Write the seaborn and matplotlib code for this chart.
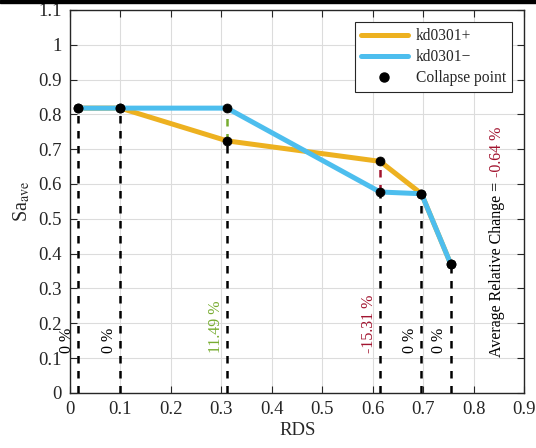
import matplotlib
matplotlib.use('Agg')
import matplotlib.pyplot as plt
from matplotlib.patches import Rectangle
from matplotlib.lines import Line2D
import seaborn as sns
import pandas as pd

# collapse points
rds = [0.016, 0.1, 0.311, 0.614, 0.696, 0.754]
sa_plus = [0.818, 0.818, 0.724, 0.665, 0.572, 0.370]
sa_minus = [0.818, 0.818, 0.818, 0.577, 0.572, 0.370]
change_labels = ['0 %', '0 %', '11.49 %', '-15.31 %', '0 %', '0 %']
change_values = [0, 0, 11.49, -15.31, 0, 0]
avg_label = '-0.64 %'

c_plus = '#EDB120'
c_minus = '#4DBEEE'
c_pos = '#77AC30'
c_neg = '#A2142F'
ink = '#262626'

sns.set_theme(style='ticks')
plt.rcParams['font.family'] = ['Liberation Serif', 'DejaVu Serif']
plt.rcParams['mathtext.fontset'] = 'stix'

df = pd.concat([
    pd.DataFrame({'RDS': rds, 'Sa': sa_plus, 'case': 'kd0301+'}),
    pd.DataFrame({'RDS': rds, 'Sa': sa_minus, 'case': 'kd0301\u2212'}),
])

fig = plt.figure(figsize=(5.36, 4.48), dpi=100)
ax = fig.add_axes([0.1306, 0.1232, 0.8479, 0.8545])

sns.lineplot(data=df, x='RDS', y='Sa', hue='case', palette=[c_plus, c_minus],
             estimator=None, sort=False, linewidth=3.6, ax=ax, legend=False, zorder=3)

# vertical dashed drops
for x, a, b, v in zip(rds, sa_plus, sa_minus, change_values):
    lo, hi = min(a, b), max(a, b)
    ax.plot([x, x], [0, lo], ls=(0, (3, 3)), color='black', lw=1.8, zorder=4)
    if hi > lo:
        ax.plot([x, x], [lo, hi], ls=(0, (3, 3)), color=c_pos if v > 0 else c_neg, lw=1.8, zorder=4)

sns.scatterplot(x=rds + rds, y=sa_plus + sa_minus, color='black', s=42,
                edgecolor='black', ax=ax, zorder=5)

for x, lab, v in zip(rds, change_labels, change_values):
    col = 'black' if v == 0 else (c_pos if v > 0 else c_neg)
    ax.annotate(lab, xy=(x, 0.115), xytext=(-2.5, 0), textcoords='offset points',
                rotation=90, ha='right', va='bottom', fontsize=11.5, color=col)

t1 = ax.text(0.845, 0.104, 'Average Relative Change =', rotation=90,
             ha='center', va='bottom', fontsize=11.5, color='black')
ax.annotate(avg_label, xy=(0.5, 1), xycoords=t1, xytext=(0, 3), textcoords='offset points',
            rotation=90, ha='center', va='bottom', fontsize=11.5, color=c_neg)

ax.set_xlim(0, 0.9)
ax.set_ylim(0, 1.1)
ax.set_xticks([i / 10 for i in range(10)])
ax.set_xticklabels(['0'] + [f'{i / 10:g}' for i in range(1, 10)])
ax.set_yticks([i / 10 for i in range(12)])
ax.set_yticklabels(['0'] + [f'{i / 10:g}' for i in range(1, 12)])
ax.grid(True, color='#dcdcdc', lw=0.8)
ax.set_axisbelow(True)
ax.tick_params(direction='in', top=True, right=True, length=5, width=0.8,
               labelsize=13.5, colors=ink, pad=6)
for s in ax.spines.values():
    s.set_color(ink)
    s.set_linewidth(1)
ax.set_xlabel('RDS', fontsize=13.5, color=ink, labelpad=3)
ax.set_ylabel(r'Sa$_{\mathrm{ave}}$', fontsize=14.5, color=ink, labelpad=4)

handles = [
    Line2D([], [], color=c_plus, lw=3.6),
    Line2D([], [], color=c_minus, lw=3.6),
    Line2D([], [], color='black', marker='o', ls='none', markersize=6.5),
]
leg = ax.legend(handles, ['kd0301+', 'kd0301\u2212', 'Collapse point'], loc='upper right',
                bbox_to_anchor=(0.9725, 0.969), borderaxespad=0, fontsize=11.2, handlelength=3,
                fancybox=False, framealpha=1, edgecolor=ink, borderpad=0.4, labelspacing=0.32,
                handletextpad=0.5)
leg.get_frame().set_linewidth(0.8)

fig.add_artist(Rectangle((0, 1 - 3 / 448), 1, 3 / 448, color='black', transform=fig.transFigure))

fig.savefig('out.png', dpi=100)
